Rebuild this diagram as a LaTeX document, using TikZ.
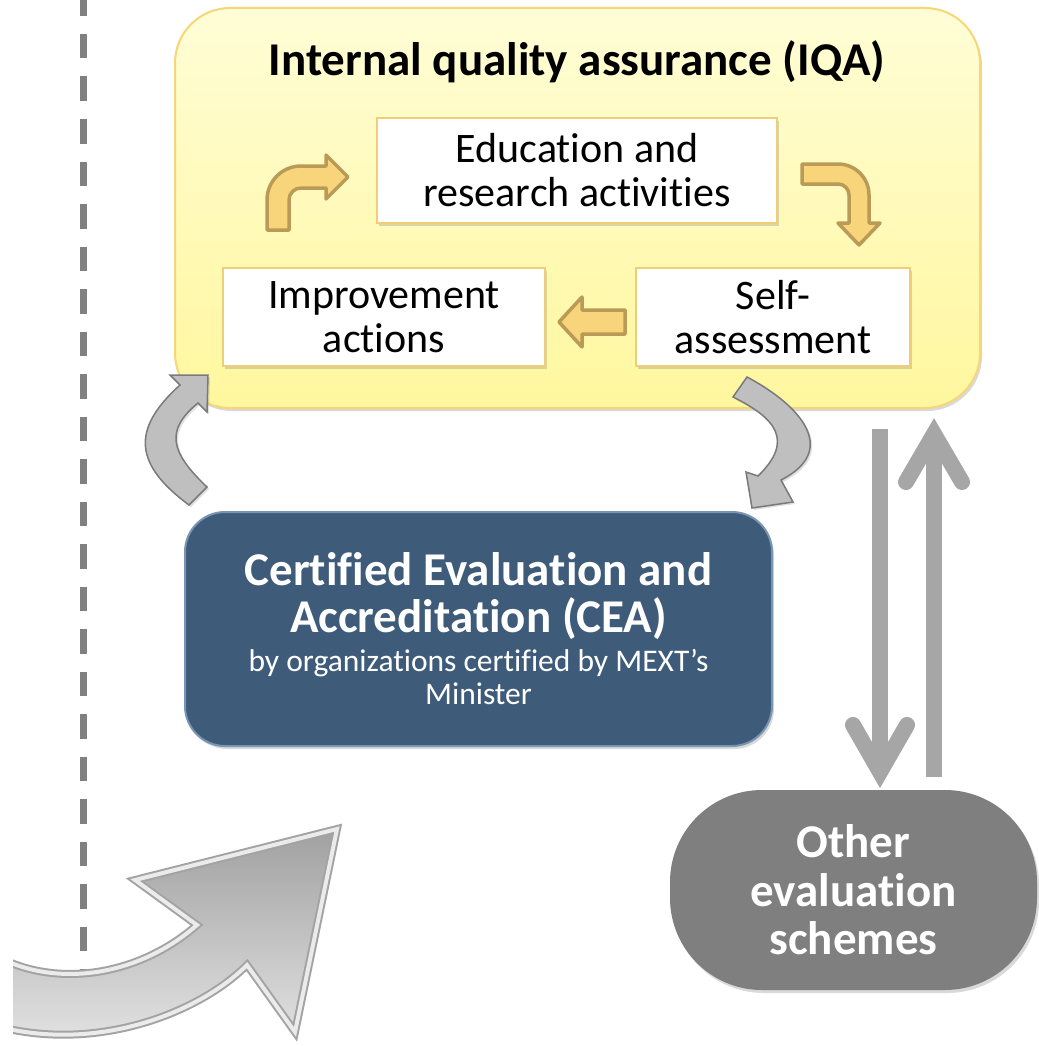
\documentclass[tikz,border=0pt]{standalone}
\usepackage{fontspec}
\setmainfont{Carlito}[Ligatures=NoCommon]
\usetikzlibrary{shadows}
\definecolor{iqaTop}{RGB}{255,253,214}
\definecolor{iqaBot}{RGB}{255,247,158}
\definecolor{iqaLine}{RGB}{247,214,120}
\definecolor{boxLine}{RGB}{240,206,120}
\definecolor{goldFill}{RGB}{248,212,122}
\definecolor{goldLine}{RGB}{185,155,87}
\definecolor{ceaFill}{RGB}{62,92,122}
\definecolor{ceaLine}{RGB}{120,150,180}
\definecolor{arrGray}{RGB}{166,166,166}
\definecolor{otherFill}{RGB}{127,127,127}
\definecolor{dashGray}{RGB}{128,128,128}
\definecolor{curveFill}{RGB}{191,191,191}
\definecolor{curveLine}{RGB}{122,122,122}
\newcommand{\ceasub}{\fontsize{31.5}{30}\selectfont\mdseries}
\begin{document}
\begin{tikzpicture}[x=1pt,y=-1pt,
  softshadow/.style={drop shadow={opacity=0.3,shadow xshift=2pt,shadow yshift=-3pt}},
  iqabox/.style={rounded corners=55pt,draw=iqaLine,line width=2pt,top color=iqaTop,bottom color=iqaBot,
     minimum width=805pt,minimum height=400pt,softshadow},
  whitebox/.style={draw=boxLine,line width=2pt,fill=white,align=center,inner sep=0pt,
     font=\fontsize{42}{44}\selectfont,softshadow},
  goldarrow/.style={fill=goldFill,draw=goldLine,line width=3.5pt,line join=round},
  curvearrow/.style={fill=curveFill,draw=curveLine,line width=1.5pt,line join=miter,
     drop shadow={opacity=0.25,shadow xshift=2pt,shadow yshift=-2pt}},
  straightarrow/.style={draw=arrGray,line width=16pt},
  arrowhead/.style={draw=arrGray,line width=16pt,line cap=round,line join=miter},
  ceabox/.style={rounded corners=40pt,draw=ceaLine,line width=2pt,fill=ceaFill,text=white,align=center,
     minimum width=587pt,minimum height=234pt,inner sep=0pt,
     font=\fontsize{47}{47}\selectfont\bfseries,softshadow},
  otherbox/.style={rounded corners=92pt,fill=otherFill,text=white,align=center,
     minimum width=367pt,minimum height=200pt,inner sep=0pt,
     font=\fontsize{47}{48.5}\selectfont\bfseries,softshadow}
]
\useasboundingbox (0,0) rectangle (1038,1046);

% dashed separator
\coordinate (dashtop) at (83.5,0);
\coordinate (dashbot) at (83.5,980);
\draw[dashGray,line width=6.5pt,dash pattern=on 24.5pt off 18pt,dash phase=8.5pt] (dashtop) -- (dashbot);

% IQA container
\node[iqabox] (iqa) at (577.5,208) {};
\node[font=\fontsize{47}{48}\selectfont\bfseries] (title) at (577,62) {Internal quality assurance (IQA)};

% inner boxes
\node[whitebox,minimum width=400pt,minimum height=105pt] (edu) at (577,170.5) {Education and\\research activities};
\node[whitebox,minimum width=322pt,minimum height=98pt] (imp) at (384,317) {Improvement\\actions};
\node[whitebox,minimum width=274pt,minimum height=98pt] (self) at (773,317) {Self-\\assessment};

% gold cycle arrows
\draw[goldarrow] (267,230) -- (267,200) arc (180:270:34) -- (326,166) -- (326,155) -- (348,177)
  -- (326,199) -- (326,188) -- (301,188) arc (270:180:12) -- (289,230) -- cycle;
\draw[goldarrow] (802,164) -- (838,164) arc (270:360:31) -- (869,223) -- (880,223) -- (859,245)
  -- (838,223) -- (849,223) -- (849,195) arc (0:-90:11) -- (802,184) -- cycle;
\draw[goldarrow] (625,310) -- (582,310) -- (582,297) -- (559,322) -- (582,347) -- (582,334) -- (625,334) -- cycle;

% CEA box
\node[ceabox] (cea) at (478.5,629) {Certified Evaluation and\\
  Accreditation (CEA)\\[-8pt]
  \ceasub by organizations certified by MEXT’s\\[-14pt]
  \ceasub Minister};

% curved grey arrows between IQA and CEA
\draw[curvearrow] (207,487) .. controls (170,452) and (165,430) .. (198,403) -- (207,412) -- (208,375)
  -- (170,375) -- (180,385) .. controls (130,430) and (135,465) .. (189,505) -- cycle;
\draw[curvearrow] (733,397) -- (747,377) .. controls (800,405) and (840,450) .. (781,480) -- (793,502)
  -- (752,508) -- (746,472) -- (758,476) .. controls (795,440) and (775,418) .. (733,397) -- cycle;

% other evaluation schemes
\node[otherbox] (other) at (853.5,890) {Other\\evaluation\\schemes};

% straight arrows
\coordinate (dnStart) at (880,429);
\coordinate (dnJoin) at (880,772);
\coordinate (upStart) at (934,777);
\coordinate (upJoin) at (934,434);
\draw[straightarrow] (dnStart) -- (dnJoin);
\draw[arrowhead] (853,725) -- (dnJoin) -- (907,725);
\draw[straightarrow] (upStart) -- (upJoin);
\draw[arrowhead] (906,482) -- (upJoin) -- (962,482);

% big curved arrow bottom-left
\begin{scope}
  \clip (13,800) rectangle (420,1046);
  \path[top color=black!37,middle color=black!36,bottom color=black!10,draw=black!36,line width=8pt,line join=miter]
    (0,958) .. controls (60,988) and (140,975) .. (197,925) -- (135,880) -- (337,829) -- (295,1032)
    -- (247,965) .. controls (200,1012) and (100,1052) .. (0,1027) -- cycle;
  \draw[white!92!black,line width=4pt,line join=miter]
    (0,958) .. controls (60,988) and (140,975) .. (197,925) -- (135,880) -- (337,829) -- (295,1032)
    -- (247,965) .. controls (200,1012) and (100,1052) .. (0,1027) -- cycle;
\end{scope}
\end{tikzpicture}
\end{document}
